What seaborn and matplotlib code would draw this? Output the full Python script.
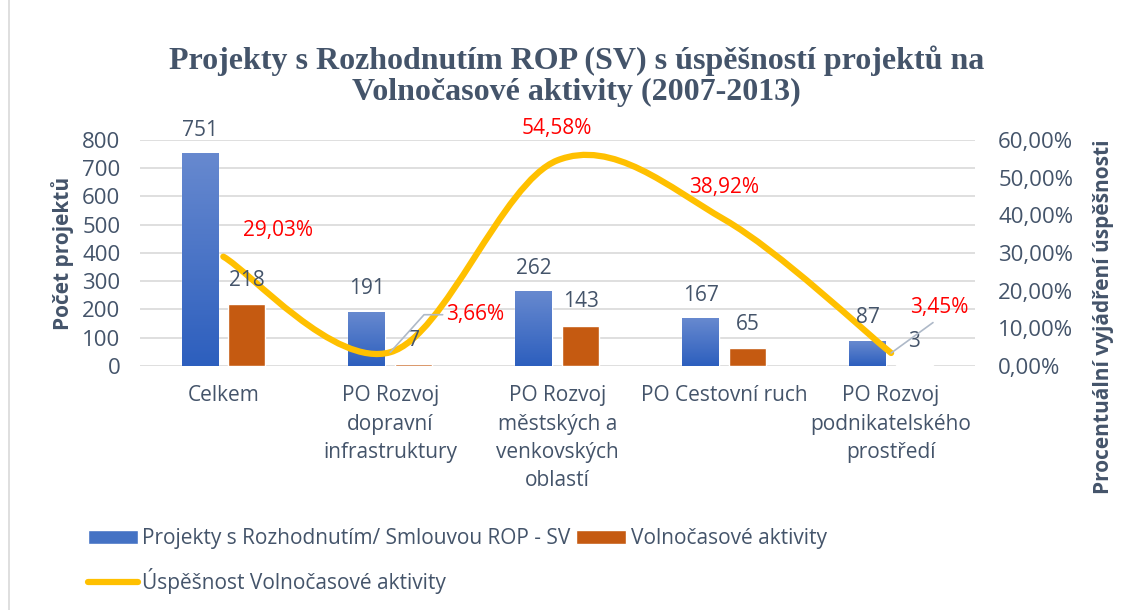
import numpy as np
import pandas as pd
import seaborn as sns
import matplotlib.pyplot as plt
from matplotlib.path import Path
from matplotlib.patches import PathPatch, Patch
from matplotlib.lines import Line2D
from matplotlib.colors import LinearSegmentedColormap
from matplotlib.ticker import FuncFormatter

# data
categories = ["Celkem", "PO Rozvoj\ndopravní\ninfrastruktury",
              "PO Rozvoj\nměstských a\nvenkovských\noblastí",
              "PO Cestovní ruch", "PO Rozvoj\npodnikatelského\nprostředí"]
projekty = [751, 191, 262, 167, 87]
volnocasove = [218, 7, 143, 65, 3]
uspesnost = [29.03, 3.66, 54.58, 38.92, 3.45]

s_proj = "Projekty s Rozhodnutím/ Smlouvou ROP - SV"
s_vol = "Volnočasové aktivity"
s_usp = "Úspěšnost Volnočasové aktivity"

df = pd.DataFrame({
    "kat": categories * 2,
    "pocet": projekty + volnocasove,
    "serie": [s_proj] * 5 + [s_vol] * 5,
})

sns.set_style("white")
plt.rcParams["font.family"] = ["Open Sans", "DejaVu Sans"]
txt = "#44546A"
fs = 15

fig = plt.figure(figsize=(11.28, 6.10), dpi=100)
ax = fig.add_axes([0.124, 0.40, 0.74, 0.3705])

sns.barplot(data=df, x="kat", y="pocet", hue="serie", ax=ax,
            palette=["#4472C4", "#C55A11"], width=0.56, gap=0.21,
            saturation=1, legend=False)

# gradient on the blue bars
cmap = LinearSegmentedColormap.from_list("g", ["#2D5FBE", "#6789CF"])
grad = np.linspace(0, 1, 100).reshape(-1, 1)
for p in ax.containers[0]:
    x0, y0 = p.get_x(), p.get_y()
    ax.imshow(grad, extent=[x0, x0 + p.get_width(), y0, y0 + p.get_height()],
              origin="lower", cmap=cmap, aspect="auto", zorder=2)

ax.set_xlim(-0.5, 4.5)
ax.set_ylim(0, 800)
ax.set_yticks(range(0, 801, 100))
ax.grid(axis="y", color="#D9D9D9", linewidth=1.2)
ax.set_axisbelow(True)
for s in ax.spines.values():
    s.set_visible(False)
ax.tick_params(axis="y", length=0, labelsize=fs + 1, colors=txt, pad=14)
ax.tick_params(axis="x", length=0, labelsize=fs, colors=txt, pad=14)
ax.set_xlabel("")
ax.set_ylabel("")
for t in ax.get_xticklabels():
    t.set_linespacing(1.45)
    t.set_va("top")

# secondary axis, smoothed line (Excel-like bezier through the points)
ax2 = ax.twinx()
ax2.set_ylim(0, 60)
ax2.set_yticks(range(0, 61, 10))
ax2.yaxis.set_major_formatter(FuncFormatter(lambda v, p: f"{v:.2f}%".replace(".", ",")))
ax2.tick_params(axis="y", length=0, labelsize=fs + 1, colors=txt, pad=17)
for s in ax2.spines.values():
    s.set_visible(False)

pts = np.column_stack([np.arange(5), uspesnost])
ext = np.vstack([pts[0], pts, pts[-1]])
verts, codes = [tuple(pts[0])], [Path.MOVETO]
for i in range(4):
    p0, p1, p2, p3 = ext[i], ext[i + 1], ext[i + 2], ext[i + 3]
    verts += [tuple(p1 + (p2 - p0) / 6), tuple(p2 - (p3 - p1) / 6), tuple(p2)]
    codes += [Path.CURVE4] * 3
ax2.add_patch(PathPatch(Path(verts, codes), fill=False, edgecolor="#FFC000",
                        linewidth=4.5, capstyle="round", zorder=3))

# bar value labels (drawn on top like Excel)
for c in ax.containers:
    for p in c:
        ax2.annotate(f"{p.get_height():.0f}", (p.get_x() + p.get_width() / 2, p.get_height() * 0.075),
                     xytext=(0, 17), textcoords="offset points", ha="center",
                     va="center", color=txt, fontsize=fs)

offsets = [(39, 19), (61, 27), (0, 23), (0, 23), (35, 33)]
for i, (v, off) in enumerate(zip(uspesnost, offsets)):
    lab = f"{v:.2f}%".replace(".", ",")
    ap = None
    if i == 1:
        ap = dict(arrowstyle="-", color="#AEB9C8", lw=1.2, shrinkA=0, shrinkB=0,
                  relpos=(0, 0.5), connectionstyle="angle,angleA=0,angleB=48,rad=0")
    if i == 4:
        ap = dict(arrowstyle="-", color="#AEB9C8", lw=1.2, shrinkA=2, shrinkB=0,
                  relpos=(0.5, 0))
    ax2.annotate(lab, (i, v), xytext=off, textcoords="offset points",
                 ha="center", va="center", color="#FF0000", fontsize=fs,
                 arrowprops=ap)

fig.text(0.511, 0.875, "Projekty s Rozhodnutím ROP (SV) s úspěšností projektů na\n"
         "Volnočasové aktivity (2007-2013)", ha="center", va="center",
         family="Liberation Serif", fontweight="bold", fontsize=23, color=txt,
         linespacing=1.1)
fig.text(0.055, 0.585, "Počet projektů", rotation=90, ha="center", va="center",
         fontweight="bold", fontsize=fs, color=txt)
fig.text(0.978, 0.48, "Procentuální vyjádření úspěšnosti", rotation=90,
         ha="center", va="center", fontweight="bold", fontsize=fs, color=txt)

h1 = [Patch(facecolor="#4472C4"), Patch(facecolor="#C55A11")]
fig.legend(h1, [s_proj, s_vol], loc="center left", bbox_to_anchor=(0.061, 0.117),
           ncol=2, frameon=False, fontsize=fs, handlelength=2.4, handleheight=0.7,
           handletextpad=0.2, columnspacing=0.3, labelcolor=txt)
fig.legend([Line2D([], [], color="#FFC000", lw=4.5)], [s_usp], loc="center left",
           bbox_to_anchor=(0.061, 0.047), frameon=False, fontsize=fs,
           handlelength=2.4, handletextpad=0.2, labelcolor=txt)

fig.add_artist(Line2D([0.008, 0.008], [0, 1], color="#D9D9D9", lw=1.2))

fig.savefig("out.png", dpi=100)
